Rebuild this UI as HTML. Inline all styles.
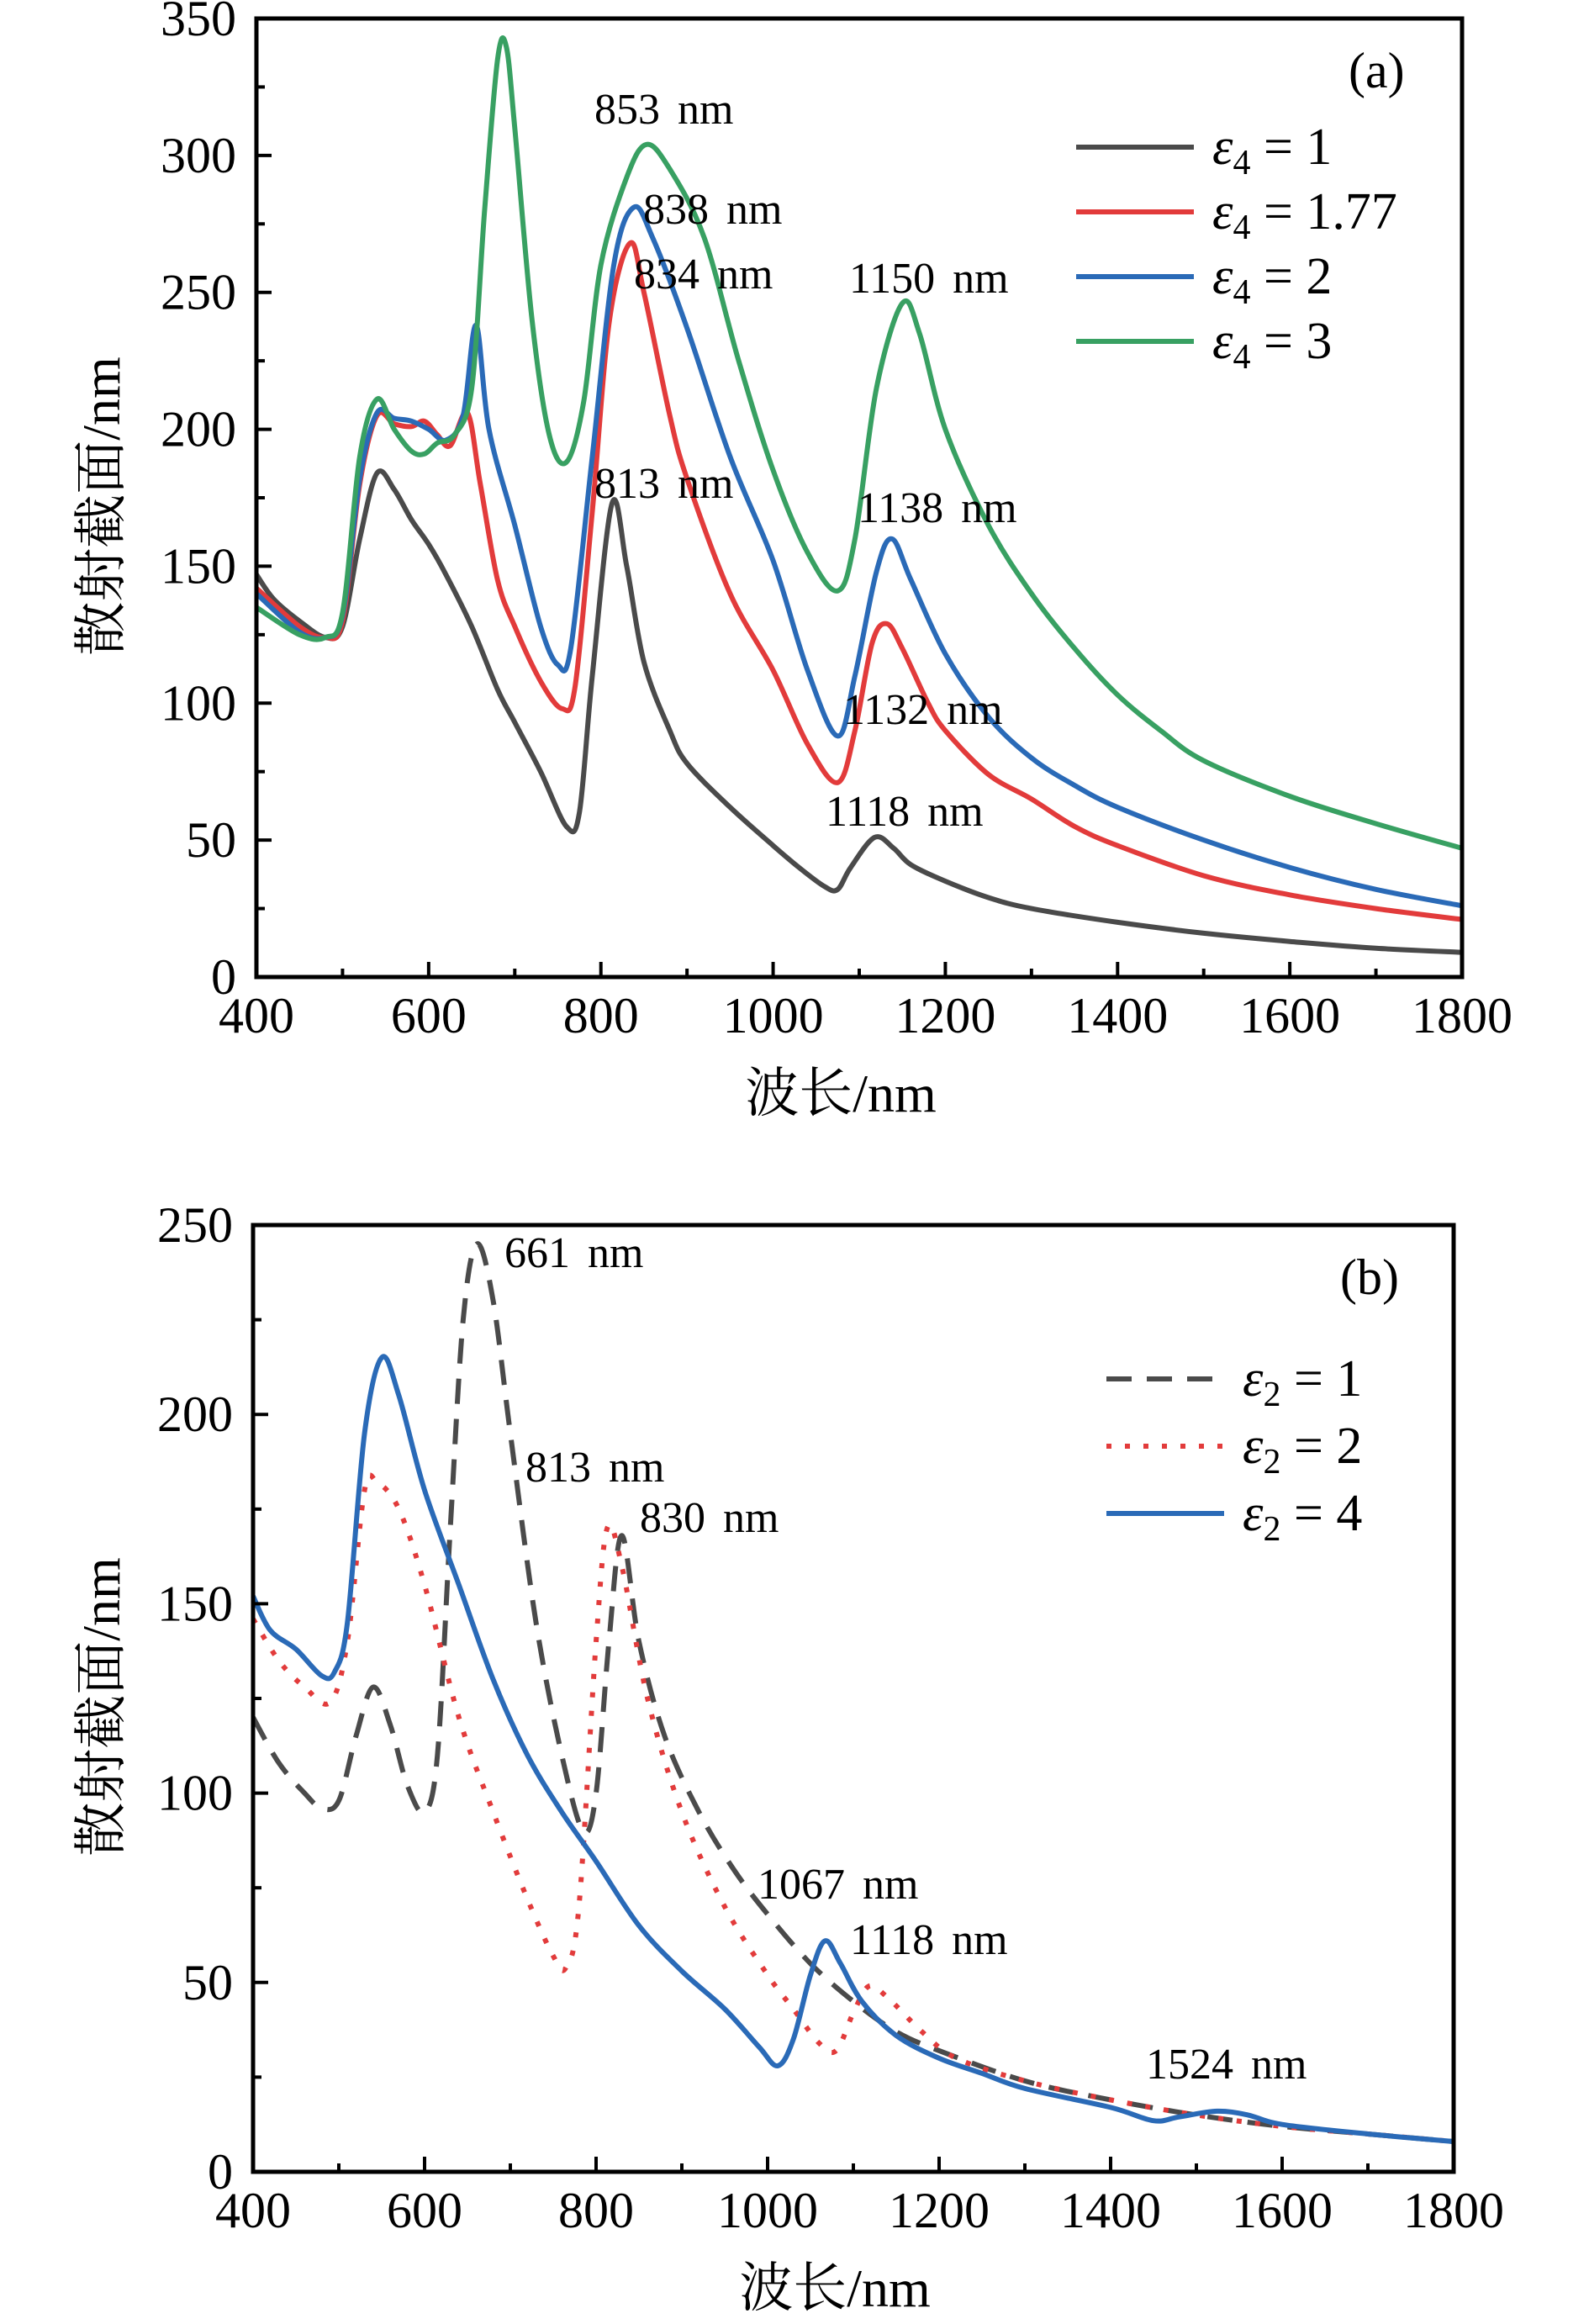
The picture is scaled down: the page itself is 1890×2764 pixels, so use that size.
<!DOCTYPE html>
<html><head><meta charset="utf-8"><style>
html,body{margin:0;padding:0;background:#fff}
svg{display:block}
text{font-family:"Liberation Serif","Noto Serif CJK SC",serif;fill:#000}
</style></head><body>
<svg id="c" width="1890" height="2764" viewBox="0 0 1890 2764" xmlns="http://www.w3.org/2000/svg"></svg>
<script>
// ---- Panel (a) data ----
const xTicks = [400,600,800,1000,1200,1400,1600,1800];
const yTicksA = [0,50,100,150,200,250,300,350];
const yTicksB = [0,50,100,150,200,250];
const a1x=[400,420,450,480,500,520,540,560,580,600,620,650,680,700,730,760,775,790,813,830,850,880,900,950,1000,1030,1060,1075,1090,1118,1140,1160,1200,1250,1300,1400,1500,1600,1700,1800];
const a1y=[147,138,130,124,128,160,184,178,167,158,147,128,105,93,75,55,60,110,173,150,115,90,78,62,48,40,33,32,40,51,47,41,35,29,25,20,16,13,10.5,9];
const a2x=[400,450,480,500,520,540,560,580,595,610,625,645,660,680,700,730,755,770,790,810,834,850,880,900,950,1000,1040,1075,1095,1115,1132,1150,1180,1200,1250,1300,1350,1400,1500,1600,1700,1800];
const a2y=[142,128,124,130,180,205,202,201,203,198,194,206,180,145,128,108,98,106,170,240,268,250,205,182,140,112,85,71,90,122,129,120,100,90,74,65,55,48,37,30,25,21];
const a3x=[400,450,480,500,520,540,560,580,600,620,640,655,670,700,730,750,765,790,815,838,860,900,950,1000,1040,1075,1095,1120,1138,1160,1200,1250,1300,1350,1400,1500,1600,1700,1800];
const a3y=[140,126,124,132,182,206,204,203,200,196,205,238,200,165,128,114,120,190,260,281,270,237,190,152,112,88,110,148,160,145,118,95,80,70,62,50,40,32,26];
const a4x=[400,450,480,500,520,540,560,580,595,610,630,650,665,680,690,700,720,740,760,780,800,830,853,880,920,960,1000,1040,1075,1095,1120,1150,1170,1200,1250,1300,1350,1400,1450,1500,1600,1700,1800];
const a4y=[135,125,124,133,190,211,200,192,191,195,198,215,280,335,340,310,240,198,188,210,260,292,304,295,270,225,185,155,141,160,215,246,235,200,165,140,120,103,90,79,66,56,47];
// ---- Panel (b) data ----
const b1x=[400,430,460,480,500,520,540,560,580,600,615,630,645,661,680,700,730,760,785,800,815,830,850,880,920,960,1000,1050,1100,1150,1200,1300,1400,1500,1600,1700,1800];
const b1y=[120,108,100,96,98,115,128,118,102,95,110,170,225,245,230,195,145,110,90,100,140,168,140,115,95,80,68,55,45,37,32,24,19,15,12,10,8];
const b2x=[400,430,460,490,510,530,545,570,600,640,680,720,750,765,780,800,813,830,860,900,950,1000,1030,1060,1080,1100,1118,1140,1180,1220,1300,1400,1500,1600,1700,1800];
const b2y=[146,135,128,124,140,180,182,175,155,120,95,72,57,54,70,140,170,160,125,95,70,52,43,34,32,42,49,46,37,30,24,19,15,12,10,8];
const b3x=[400,420,450,480,495,510,530,550,570,600,640,680,720,760,800,850,900,950,990,1012,1030,1050,1067,1085,1110,1150,1200,1250,1300,1400,1450,1480,1524,1560,1600,1700,1800];
const b3y=[152,143,138,131,132,145,195,215,205,180,155,130,110,95,82,65,53,43,33,28,35,52,61,55,45,36,30,26,22,17,13.5,14.5,16,15,12.5,10,8];

const NS="http://www.w3.org/2000/svg";
const svg=document.getElementById('c');
function mk(tag,attrs,parent){const e=document.createElementNS(NS,tag);for(const k in attrs)e.setAttribute(k,attrs[k]);(parent||svg).appendChild(e);return e;}
function smooth(pts){let d=`M${pts[0][0].toFixed(1)},${pts[0][1].toFixed(1)}`;
 for(let i=0;i<pts.length-1;i++){const p0=pts[i-1]||pts[i],p1=pts[i],p2=pts[i+1],p3=pts[i+2]||p2;
  const c1=[p1[0]+(p2[0]-p0[0])/6,p1[1]+(p2[1]-p0[1])/6],c2=[p2[0]-(p3[0]-p1[0])/6,p2[1]-(p3[1]-p1[1])/6];
  d+=`C${c1[0].toFixed(1)},${c1[1].toFixed(1)} ${c2[0].toFixed(1)},${c2[1].toFixed(1)} ${p2[0].toFixed(1)},${p2[1].toFixed(1)}`;}
 return d;}

function panel(P){
 const g=mk('g',{});
 
 
 const X=v=>P.x0+(v-400)/1400*(P.x1-P.x0);
 const Y=v=>P.y1-v/P.ymax*(P.y1-P.y0);
 P.series.forEach(s=>{
  const pts=s.x.map((v,i)=>[X(v),Y(s.y[i])]);
  const p=mk('path',{d:smooth(pts),fill:'none',stroke:s.color,'stroke-width':6,'stroke-linejoin':'round','stroke-dasharray':s.dash||'none','stroke-linecap':s.cap||'butt'},g);
  
  
 });
 const fr=mk('rect',{x:P.x0,y:P.y0,width:P.x1-P.x0,height:P.y1-P.y0,fill:'none',stroke:'#000','stroke-width':5},g);
 
 
 for(let v=400;v<=1800;v+=100){const maj=(v%200===0);
  mk('line',{x1:X(v),x2:X(v),y1:P.y1,y2:P.y1-(maj?18:10),stroke:'#000','stroke-width':4},g);}
 xTicks.forEach(v=>{const t=mk('text',{x:X(v),y:P.y1+66,'font-size':60,'text-anchor':'middle'},g);t.textContent=v;
  
  });
 const step=P.yTicks[1]-P.yTicks[0];
 for(let v=0;v<=P.ymax;v+=step/2){const maj=(v%step===0);
  mk('line',{x1:P.x0,x2:P.x0+(maj?18:10),y1:Y(v),y2:Y(v),stroke:'#000','stroke-width':4},g);}
 P.yTicks.forEach(v=>{const t=mk('text',{x:P.x0-24,y:Y(v)+20,'font-size':60,'text-anchor':'end'},g);t.textContent=v;
  
  });
 const xt=mk('text',{x:(P.x0+P.x1)/2-22,y:P.y1+160,'font-size':64,'text-anchor':'middle'},g);xt.textContent='波长/nm';
 
 
 const cy=(P.y0+P.y1)/2+10;
 const yt=mk('text',{x:0,y:0,'font-size':64,'text-anchor':'middle',transform:`translate(142,${cy}) rotate(-90)`},g);yt.textContent='散射截面/nm';
 
 
 const pl=mk('text',{x:P.x1-135,y:P.y0+82,'font-size':60},g);pl.textContent=P.label;
 
 
 P.series.forEach((s,i)=>{const ly=P.legY+i*P.legDy;
  const l=mk('line',{x1:P.legX,x2:P.legX+140,y1:ly,y2:ly,stroke:s.color,'stroke-width':6,'stroke-dasharray':s.dash||'none','stroke-linecap':s.cap||'butt'},g);
  
  
  const t=mk('text',{x:P.legX+162,y:ly+20,'font-size':62},g);
  
  
  t.innerHTML=`<tspan font-style="italic">ε</tspan><tspan font-size="42" dy="12">${P.sub}</tspan><tspan dy="-12"> = ${s.lab}</tspan>`;});
 P.ann.forEach(a=>{const t=mk('text',{x:a[1],y:a[2],'font-size':52,'word-spacing':'8'},g);t.textContent=a[0];
  
  });
}

panel({name:'panel-a',label:'(a)',x0:305,x1:1739,y0:22,y1:1162,ymax:350,yTicks:yTicksA,sub:'4',legX:1280,legY:175,legDy:77,
 series:[{id:'series-eps4-1',x:a1x,y:a1y,color:'#4a4a4a',lab:'1'},{id:'series-eps4-1.77',x:a2x,y:a2y,color:'#e23b3b',lab:'1.77'},
  {id:'series-eps4-2',x:a3x,y:a3y,color:'#2a6ab7',lab:'2'},{id:'series-eps4-3',x:a4x,y:a4y,color:'#38a062',lab:'3'}],
 ann:[['853 nm',707,147],['838 nm',765,266],['834 nm',754,343],['1150 nm',1010,348],['813 nm',707,592],['1138 nm',1020,621],['1132 nm',1003,861],['1118 nm',982,982]]});

panel({name:'panel-b',label:'(b)',x0:301,x1:1729,y0:1457,y1:2583,ymax:250,yTicks:yTicksB,sub:'2',legX:1316,legY:1640,legDy:80,
 series:[{id:'series-eps2-1',x:b1x,y:b1y,color:'#4a4a4a',lab:'1',dash:'30 18'},{id:'series-eps2-2',x:b2x,y:b2y,color:'#e23b3b',lab:'2',dash:'6 16'},
  {id:'series-eps2-4',x:b3x,y:b3y,color:'#2a6ab7',lab:'4'}],
 ann:[['661 nm',600,1507],['813 nm',625,1762],['830 nm',761,1822],['1067 nm',901,2258],['1118 nm',1011,2324],['1524 nm',1363,2472]]});
</script>
</body></html>
